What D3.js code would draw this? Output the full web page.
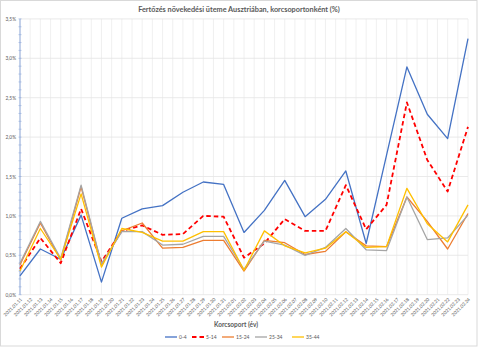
<!DOCTYPE html>
<html><head><meta charset="utf-8">
<script src="https://cdn.jsdelivr.net/npm/d3@7"></script>
<style>body{margin:0;background:#fff}svg{display:block}text{font-family:Lato,"Liberation Sans",sans-serif}</style>
</head><body><svg id="c" width="480" height="347"></svg>
<script>
const categories = ["2021.01.11","2021.01.12","2021.01.13","2021.01.14","2021.01.15","2021.01.16","2021.01.17","2021.01.18","2021.01.19","2021.01.20","2021.01.21","2021.01.22","2021.01.23","2021.01.24","2021.01.25","2021.01.26","2021.01.27","2021.01.28","2021.01.29","2021.01.30","2021.01.31","2021.02.01","2021.02.02","2021.02.03","2021.02.04","2021.02.05","2021.02.06","2021.02.07","2021.02.08","2021.02.09","2021.02.10","2021.02.11","2021.02.12","2021.02.13","2021.02.14","2021.02.15","2021.02.16","2021.02.17","2021.02.18","2021.02.19","2021.02.20","2021.02.21","2021.02.22","2021.02.23","2021.02.24"];
const dataDates = ["2021.01.11","2021.01.13","2021.01.15","2021.01.17","2021.01.19","2021.01.21","2021.01.23","2021.01.25","2021.01.27","2021.01.29","2021.01.31","2021.02.02","2021.02.04","2021.02.06","2021.02.08","2021.02.10","2021.02.12","2021.02.14","2021.02.16","2021.02.18","2021.02.20","2021.02.22","2021.02.24"];
const s0_4   = [0.24,0.58,0.45,1.01,0.16,0.97,1.09,1.13,1.30,1.43,1.40,0.79,1.07,1.45,0.99,1.21,1.57,0.65,1.77,2.89,2.29,1.98,3.25];
const s5_14  = [0.33,0.72,0.40,1.09,0.42,0.81,0.88,0.76,0.77,1.00,0.99,0.47,0.65,0.96,0.81,0.81,1.39,0.83,1.14,2.44,1.71,1.31,2.13];
const s15_24 = [0.38,0.91,0.44,1.37,0.38,0.81,0.91,0.59,0.60,0.69,0.69,0.30,0.69,0.66,0.51,0.55,0.80,0.62,0.61,1.24,0.93,0.58,1.03];
const s25_34 = [0.40,0.93,0.46,1.39,0.39,0.80,0.80,0.63,0.64,0.74,0.74,0.32,0.68,0.63,0.50,0.60,0.84,0.57,0.56,1.24,0.70,0.72,1.01];
const s35_44 = [0.30,0.84,0.45,1.28,0.35,0.84,0.79,0.68,0.68,0.80,0.80,0.31,0.81,0.62,0.53,0.59,0.80,0.60,0.61,1.35,0.90,0.67,1.14];
const seriesNames = ["0-4","5-14","15-24","25-34","35-44"];
const yTicks = [0,0.5,1,1.5,2,2.5,3,3.5];
const title = "Fertőzés növekedési üteme Ausztriában, korcsoportonként (%)";
const xTitle = "Korcsoport (év)";

const series = [
  {name:seriesNames[0], values:s0_4,   color:"#4472C4", dash:null, w:1.3},
  {name:seriesNames[1], values:s5_14,  color:"#FF0000", dash:"4.5,3", w:1.8},
  {name:seriesNames[2], values:s15_24, color:"#ED7D31", dash:null, w:1.3},
  {name:seriesNames[3], values:s25_34, color:"#A5A5A5", dash:null, w:1.3},
  {name:seriesNames[4], values:s35_44, color:"#FFC000", dash:null, w:1.3}
];

const svg = d3.select("#c");
const L = 20, R = 468, T = 18.9, B = 294.7;
const x = d3.scalePoint().domain(categories).range([L, R]);
const y = d3.scaleLinear().domain([0, 3.5]).range([B, T]);

svg.append("rect").attr("x",0.5).attr("y",0.5).attr("width",476.5).attr("height",345.5)
  .attr("fill","#fff").attr("stroke","#d9d9d9").attr("stroke-width",1);

svg.append("text").attr("x",239).attr("y",12).attr("text-anchor","middle")
  .attr("font-size",7.3).attr("font-weight","bold").attr("fill","#595959").text(title);

// vertical gridlines
svg.append("g").selectAll("line").data(categories).join("line")
  .attr("x1",d=>x(d)).attr("x2",d=>x(d)).attr("y1",T).attr("y2",B)
  .attr("stroke","#ececec").attr("stroke-width",0.8);
// horizontal gridlines
svg.append("g").selectAll("line").data(yTicks).join("line")
  .attr("x1",L).attr("x2",R).attr("y1",d=>y(d)).attr("y2",d=>y(d))
  .attr("stroke","#e4e4e4").attr("stroke-width",0.8);

// y axis
const fmt = d => d3.format(".1f")(d).replace(".", ",") + "%";
const yAxis = d3.axisLeft(y).tickValues(yTicks).tickFormat(fmt).tickSize(0).tickPadding(4);
const ga = svg.append("g").attr("transform",`translate(${L},0)`).call(yAxis);
ga.select(".domain").remove();
ga.selectAll("text").attr("font-size",4.8).attr("fill","#595959").attr("font-family","Lato,'Liberation Sans',sans-serif");
svg.append("line").attr("x1",L).attr("x2",L).attr("y1",T).attr("y2",B).attr("stroke","#8faadc").attr("stroke-width",1);
const minor = d3.range(0, 36).map(i => i/10);
svg.append("g").selectAll("line").data(minor).join("line")
  .attr("x1",L-1.5).attr("x2",L+1.5).attr("y1",d=>y(d)).attr("y2",d=>y(d))
  .attr("stroke","#8faadc").attr("stroke-width",0.6);

// x axis labels
const xAxis = d3.axisBottom(x).tickSize(0).tickPadding(0);
const gx = svg.append("g").attr("transform",`translate(0,${B})`).call(xAxis);
gx.select(".domain").remove();
gx.selectAll("text").attr("font-size",4.7).attr("fill","#595959")
  .attr("font-family","Lato,'Liberation Sans',sans-serif")
  .attr("text-anchor","end").attr("dy",0)
  .attr("transform","translate(2,5) rotate(-45)");

// lines
const line = d3.line().x((d,i)=>x(dataDates[i])).y(d=>y(d));
series.forEach(s=>{
  svg.append("path").datum(s.values).attr("d",line).attr("fill","none")
    .attr("stroke",s.color).attr("stroke-width",s.w)
    .attr("stroke-dasharray",s.dash).attr("stroke-linejoin","round");
});

svg.append("text").attr("x",236).attr("y",327).attr("text-anchor","middle")
  .attr("font-size",6.5).attr("font-weight","bold").attr("fill","#595959").text(xTitle);

// legend
const legX = [165, 192, 222, 255, 292];
const lg = svg.append("g");
series.forEach((s,i)=>{
  lg.append("line").attr("x1",legX[i]).attr("x2",legX[i]+12).attr("y1",337).attr("y2",337)
    .attr("stroke",s.color).attr("stroke-width",s.w).attr("stroke-dasharray",s.dash);
  lg.append("text").attr("x",legX[i]+14).attr("y",338.8).attr("font-size",5)
    .attr("fill","#595959").text(s.name);
});
</script></body></html>
